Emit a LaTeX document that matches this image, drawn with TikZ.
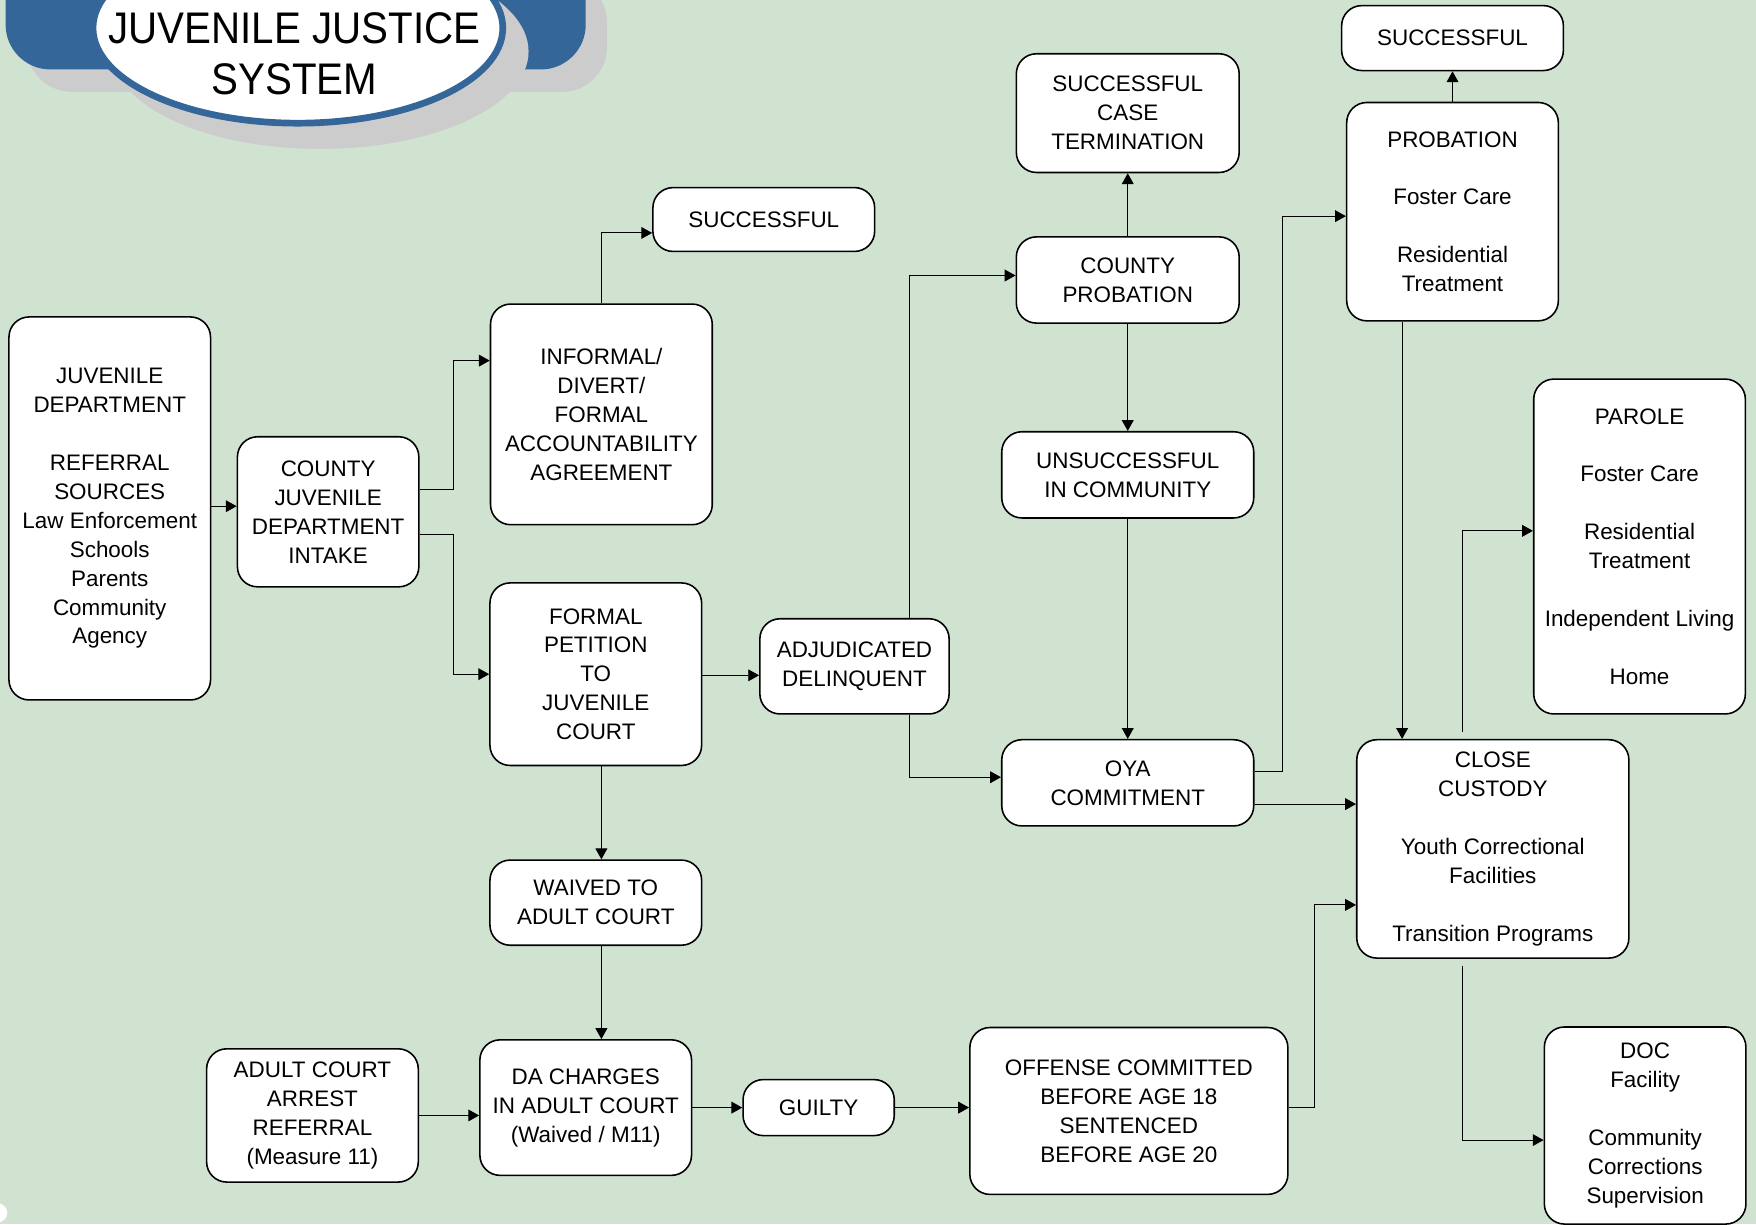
\documentclass[tikz,border=0pt]{standalone}
\usepackage{fontspec}
\usepackage{graphicx}
\setmainfont{Liberation Sans}
\usetikzlibrary{arrows.meta,calc}
\definecolor{bgc}{RGB}{208,227,209}
\definecolor{tblue}{RGB}{52,102,153}
\definecolor{tgray}{RGB}{204,204,204}
\tikzset{
  bx/.style 2 args={draw=black, fill=white, line width=0.8pt, rounded corners=0.36cm,
    minimum width=#1*0.02cm, minimum height=#2*0.02cm, align=center, inner sep=0pt,
    font=\fontsize{11.4pt}{14.7pt}\selectfont},
  arr/.style={draw=black, line width=0.5pt, -{Triangle[length=5.5pt,width=6pt]}},
}
\begin{document}
\begin{tikzpicture}[x=0.02cm,y=-0.02cm]
\fill[bgc] (0,0) rectangle (1568,1093);
\useasboundingbox (0,0) rectangle (1568,1093);

% title
\fill[tgray, rounded corners=0.8cm] (24,-20) rectangle (542,82);
\fill[tblue, rounded corners=0.8cm] (5,-40) rectangle (523,62);
\fill[tgray] (286,46) ellipse [x radius=3.72cm, y radius=1.74cm];
\filldraw[fill=white, draw=tblue, line width=3.4pt] (266,25) ellipse [x radius=3.66cm, y radius=1.7cm];
\node[align=center, inner sep=0pt, font=\fontsize{22.5pt}{26.2pt}\selectfont] (title) at (263,48)
  {\scalebox{0.91}[1]{JUVENILE JUSTICE}\\\scalebox{0.91}[1]{SYSTEM}};

% small white mark bottom-left
\fill[white] (-2,1083) circle [radius=0.17cm];

% boxes
\node[bx={180}{342}] (jd) at (98,454) {JUVENILE\\DEPARTMENT\\~\\REFERRAL\\SOURCES\\Law Enforcement\\Schools\\Parents\\Community\\Agency};
\node[bx={162}{134}] (intake) at (293,457) {COUNTY\\JUVENILE\\DEPARTMENT\\INTAKE};
\node[bx={198}{197}] (informal) at (537,370) {INFORMAL/\\DIVERT/\\FORMAL\\ACCOUNTABILITY\\AGREEMENT};
\node[bx={198}{57}] (succ1) at (682,196) {SUCCESSFUL};
\node[bx={189}{163}] (petition) at (532,602) {FORMAL\\PETITION\\TO\\JUVENILE\\COURT};
\node[bx={169}{85}] (adj) at (763,595) {ADJUDICATED\\DELINQUENT};
\node[bx={189}{76}] (waived) at (532,806) {WAIVED TO\\ADULT COURT};
\node[bx={189}{121}] (da) at (523,989) {DA CHARGES\\IN ADULT COURT\\(Waived / M11)};
\node[bx={189}{119}] (adult) at (279,996) {ADULT COURT\\ARREST\\REFERRAL\\(Measure 11)};
\node[bx={135}{50}] (guilty) at (731,989) {GUILTY};
\node[bx={284}{149}] (offense) at (1008,992) {OFFENSE COMMITTED\\BEFORE AGE 18\\SENTENCED\\BEFORE AGE 20};
\node[bx={199}{106}] (sct) at (1007,101) {SUCCESSFUL\\CASE\\TERMINATION};
\node[bx={199}{77}] (cprob) at (1007,250) {COUNTY\\PROBATION};
\node[bx={225}{77}] (unsucc) at (1007,424) {UNSUCCESSFUL\\IN COMMUNITY};
\node[bx={225}{77}] (oya) at (1007,699) {OYA\\COMMITMENT};
\node[bx={198}{58}] (succ2) at (1297,34) {SUCCESSFUL};
\node[bx={189}{195}] (prob) at (1297,189) {PROBATION\\~\\Foster Care\\~\\Residential\\Treatment};
\node[bx={189}{299}] (parole) at (1464,488) {PAROLE\\~\\Foster Care\\~\\Residential\\Treatment\\~\\Independent Living\\~\\Home};
\node[bx={243}{195}] (cc) at (1333,758) {CLOSE\\CUSTODY\\~\\Youth Correctional\\Facilities\\~\\Transition Programs};
\node[bx={180}{176}] (doc) at (1469,1005) {DOC\\Facility\\~\\Community\\Corrections\\Supervision};

% connectors
\draw[arr] (jd.east |- 0,452) -- (intake.west |- 0,452);
\draw[arr] (intake.east |- 0,437) -| (405,322) -- (informal.west |- 0,322);
\draw[arr] (intake.east |- 0,477) -| (405,602) -- (petition.west |- 0,602);
\draw[arr] (informal.north) |- (succ1.west |- 0,208);
\draw[arr] (petition.east |- 0,603) -- (adj.west |- 0,603);
\draw[arr] (petition.south -| 537,0) -- (waived.north -| 537,0);
\draw[arr] (waived.south -| 537,0) -- (da.north -| 537,0);
\draw[arr] (adult.east |- 0,996) -- (da.west |- 0,996);
\draw[arr] (da.east |- 0,989) -- (guilty.west |- 0,989);
\draw[arr] (guilty.east |- 0,989) -- (offense.west |- 0,989);
\draw[arr] (adj.north -| 812,0) |- (cprob.west |- 0,246);
\draw[arr] (adj.south -| 812,0) |- (oya.west |- 0,694);
\draw[arr] (cprob.north) -- (sct.south);
\draw[arr] (cprob.south) -- (unsucc.north);
\draw[arr] (unsucc.south) -- (oya.north);
\draw[arr] (oya.east |- 0,689) -| (1145,193) -- (prob.west |- 0,193);
\draw[arr] (oya.east |- 0,718) -- (cc.west |- 0,718);
\draw[arr] (offense.east |- 0,989) -| (1174,808) -- (cc.west |- 0,808);
\draw[arr] (prob.south -| 1252,0) -- (cc.north -| 1252,0);
\draw[arr] ($(cc.north -| 1306,0)+(0,-6)$) |- (parole.west |- 0,474);
\draw[arr] ($(cc.south -| 1306,0)+(0,6)$) |- (doc.west |- 0,1018);
\draw[arr] (prob.north) -- (succ2.south);
\end{tikzpicture}
\end{document}
